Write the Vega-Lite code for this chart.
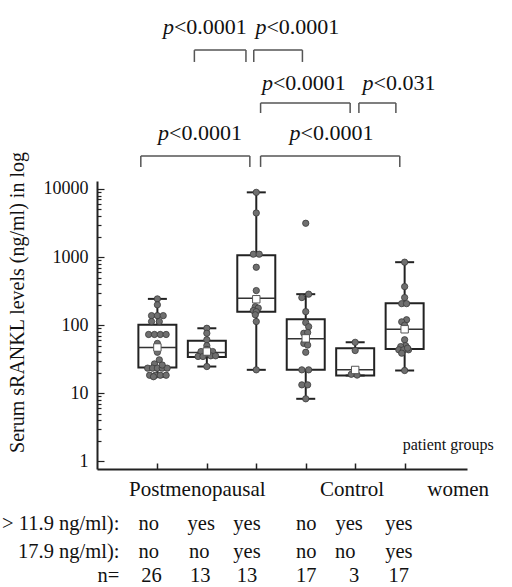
{
  "$schema": "https://vega.github.io/schema/vega-lite/v6.json",
  "width": 370,
  "height": 288,
  "autosize": {"type": "none"},
  "padding": {"left": 97, "top": 181, "right": 45, "bottom": 118},
  "background": "white",
  "config": {
    "view": {"stroke": null},
    "axis": {"grid": false}
  },
  "datasets": {
    "boxes": [
      {"x": 1, "lo": 17.5, "q1": 23.9, "med": 47, "q3": 101, "hi": 243, "mean": 47},
      {"x": 2, "lo": 24.7, "q1": 34, "med": 39.6, "q3": 58.9, "hi": 90, "mean": 41},
      {"x": 3, "lo": 22.1, "q1": 158, "med": 249, "q3": 1066, "hi": 8900, "mean": 240},
      {"x": 4, "lo": 8.3, "q1": 22.1, "med": 63, "q3": 122, "hi": 285, "mean": 64},
      {"x": 5, "lo": 18.2, "q1": 18.2, "med": 22.1, "q3": 46, "hi": 56, "mean": 22},
      {"x": 6, "lo": 21.6, "q1": 44.5, "med": 87, "q3": 210, "hi": 840, "mean": 87}
    ],
    "points": [
      {"x": 1.0, "v": 243}, {"x": 1.0, "v": 199}, {"x": 0.882, "v": 138}, {"x": 1.0, "v": 138},
      {"x": 1.118, "v": 138}, {"x": 0.882, "v": 113}, {"x": 1.039, "v": 113}, {"x": 0.823, "v": 73},
      {"x": 0.941, "v": 73}, {"x": 1.059, "v": 73}, {"x": 1.177, "v": 73}, {"x": 1.0, "v": 54},
      {"x": 1.0, "v": 40}, {"x": 1.039, "v": 31}, {"x": 0.941, "v": 27}, {"x": 0.803, "v": 23.4},
      {"x": 0.902, "v": 23.4}, {"x": 1.0, "v": 23.4}, {"x": 1.098, "v": 23.4}, {"x": 1.197, "v": 23.4},
      {"x": 0.843, "v": 18.4}, {"x": 0.961, "v": 18.4}, {"x": 1.059, "v": 18.4}, {"x": 1.177, "v": 18.4},
      {"x": 1.098, "v": 26}, {"x": 0.921, "v": 17.5},
      {"x": 2.0, "v": 90}, {"x": 2.0, "v": 76}, {"x": 2.0, "v": 61}, {"x": 2.0, "v": 50},
      {"x": 1.882, "v": 41}, {"x": 2.118, "v": 41}, {"x": 2.0, "v": 38}, {"x": 1.823, "v": 34.7},
      {"x": 1.921, "v": 34.7}, {"x": 2.079, "v": 35.5}, {"x": 2.177, "v": 35.5}, {"x": 2.0, "v": 24.7},
      {"x": 2.0, "v": 44},
      {"x": 3.0, "v": 8900}, {"x": 3.0, "v": 4430}, {"x": 2.941, "v": 1100}, {"x": 3.059, "v": 1100},
      {"x": 3.0, "v": 708}, {"x": 3.0, "v": 322}, {"x": 2.98, "v": 187}, {"x": 3.039, "v": 178},
      {"x": 2.941, "v": 164}, {"x": 3.0, "v": 158}, {"x": 2.98, "v": 142}, {"x": 3.0, "v": 113},
      {"x": 3.0, "v": 22.1},
      {"x": 4.0, "v": 3130}, {"x": 4.059, "v": 285}, {"x": 3.921, "v": 254}, {"x": 4.0, "v": 158},
      {"x": 4.0, "v": 109}, {"x": 4.059, "v": 95}, {"x": 3.961, "v": 76}, {"x": 4.039, "v": 78},
      {"x": 4.0, "v": 65}, {"x": 3.961, "v": 54}, {"x": 4.039, "v": 51}, {"x": 4.0, "v": 40},
      {"x": 3.921, "v": 22.1}, {"x": 4.059, "v": 22.1}, {"x": 3.921, "v": 13.3}, {"x": 4.039, "v": 13.3},
      {"x": 4.0, "v": 8.3},
      {"x": 5.0, "v": 56}, {"x": 5.0, "v": 42.4}, {"x": 4.921, "v": 19}, {"x": 5.039, "v": 18.5},
      {"x": 6.0, "v": 840}, {"x": 6.0, "v": 368}, {"x": 6.0, "v": 254}, {"x": 5.941, "v": 207},
      {"x": 6.039, "v": 207}, {"x": 6.039, "v": 120}, {"x": 5.941, "v": 112}, {"x": 6.0, "v": 61},
      {"x": 6.02, "v": 50}, {"x": 5.921, "v": 48.5}, {"x": 5.882, "v": 43.5}, {"x": 5.98, "v": 43.5},
      {"x": 6.079, "v": 43.5}, {"x": 5.941, "v": 38.8}, {"x": 6.0, "v": 21.6}, {"x": 6.0, "v": 100},
      {"x": 6.059, "v": 46}
    ],
    "brackets": [
      {"x1": 1.748, "x2": 2.791, "top": 1090000, "bot": 730000},
      {"x1": 2.949, "x2": 3.933, "top": 1090000, "bot": 730000},
      {"x1": 3.087, "x2": 4.898, "top": 182000, "bot": 130000},
      {"x1": 5.075, "x2": 5.823, "top": 182000, "bot": 130000},
      {"x1": 0.665, "x2": 2.87, "top": 30400, "bot": 21000},
      {"x1": 3.087, "x2": 5.902, "top": 30400, "bot": 21000}
    ],
    "pvals": [
      {"x": 1.335, "y": 2400000, "p": "p", "rest": "<0.0001"},
      {"x": 3.205, "y": 2400000, "p": "p", "rest": "<0.0001"},
      {"x": 3.337, "y": 358000, "p": "p", "rest": "<0.0001"},
      {"x": 5.37, "y": 358000, "p": "p", "rest": "<0.031"},
      {"x": 1.236, "y": 66200, "p": "p", "rest": "<0.0001"},
      {"x": 3.894, "y": 66200, "p": "p", "rest": "<0.0001"}
    ],
    "grouplabels": [
      {"x": 1.807, "y": 0.381, "t": "Postmenopausal"},
      {"x": 4.937, "y": 0.381, "t": "Control"},
      {"x": 7.083, "y": 0.381, "t": "women"}
    ],
    "cells": [
      {"x": 0.823, "y": 0.121, "t": "no"}, {"x": 1.886, "y": 0.121, "t": "yes"}, {"x": 2.811, "y": 0.121, "t": "yes"},
      {"x": 4.012, "y": 0.121, "t": "no"}, {"x": 4.878, "y": 0.121, "t": "yes"}, {"x": 5.882, "y": 0.121, "t": "yes"},
      {"x": 0.823, "y": 0.0469, "t": "no"}, {"x": 1.846, "y": 0.0469, "t": "no"}, {"x": 2.811, "y": 0.0469, "t": "yes"},
      {"x": 4.012, "y": 0.0469, "t": "no"}, {"x": 4.799, "y": 0.0469, "t": "no"}, {"x": 5.882, "y": 0.0469, "t": "yes"},
      {"x": 0.882, "y": 0.0205, "t": "26"}, {"x": 1.866, "y": 0.0205, "t": "13"}, {"x": 2.811, "y": 0.0205, "t": "13"},
      {"x": 4.012, "y": 0.0205, "t": "17"}, {"x": 4.976, "y": 0.0205, "t": "3"}, {"x": 5.882, "y": 0.0205, "t": "17"}
    ],
    "rowlabels": [
      {"x": 0.232, "y": 0.121, "t": "> 11.9 ng/ml):"},
      {"x": 0.232, "y": 0.0469, "t": "17.9 ng/ml):"},
      {"x": 0.232, "y": 0.0205, "t": "n="}
    ],
    "note": [
      {"x": 5.96, "y": 1.74, "t": "patient groups"}
    ]
  },
  "layer": [
    {
      "data": {"name": "boxes"},
      "mark": {"type": "rule", "color": "#222", "strokeWidth": 2},
      "encoding": {
        "x": {
          "field": "x", "type": "quantitative", "title": null,
          "scale": {"domain": [-0.12, 7.16], "nice": false, "zero": false},
          "axis": {
            "values": [1, 2, 3, 4, 5, 6], "labels": false, "title": null,
            "tickSize": -6, "tickWidth": 1.5, "tickColor": "#222",
            "domainColor": "#222", "domainWidth": 2
          }
        },
        "y": {
          "field": "lo", "type": "quantitative",
          "title": "Serum sRANKL levels (ng/ml) in log",
          "scale": {"type": "log", "domain": [0.774, 13060], "nice": false},
          "axis": {
            "values": [1, 2, 3, 4, 5, 6, 7, 8, 9, 10, 20, 30, 40, 50, 60, 70, 80, 90, 100, 200, 300, 400, 500, 600, 700, 800, 900, 1000, 2000, 3000, 4000, 5000, 6000, 7000, 8000, 9000, 10000],
            "format": "d",
            "labelExpr": "(datum.value == 1 || datum.value == 10 || datum.value == 100 || datum.value == 1000 || datum.value == 10000) ? datum.label : ''",
            "tickSize": {"condition": {"test": "datum.value == 1 || datum.value == 10 || datum.value == 100 || datum.value == 1000 || datum.value == 10000", "value": -7}, "value": -4},
            "tickWidth": 1.2, "tickColor": "#222",
            "domainColor": "#222", "domainWidth": 2,
            "labelFont": "Liberation Serif", "labelFontSize": 18, "labelColor": "#111",
            "labelPadding": 16, "labelOverlap": false, "labelFlush": false, "labelBaseline": "middle",
            "title": "Serum sRANKL levels (ng/ml) in log",
            "titleFont": "Liberation Serif", "titleFontSize": 20, "titleFontWeight": "normal", "titleColor": "#111",
            "titleX": -80, "titleY": 121, "titleAngle": -90, "titleAlign": "center", "titleBaseline": "middle"
          }
        },
        "y2": {"field": "hi"}
      }
    },
    {
      "data": {"name": "boxes"},
      "mark": {"type": "bar", "width": 38, "fill": "white", "stroke": "#222", "strokeWidth": 2},
      "encoding": {
        "x": {"field": "x", "type": "quantitative"},
        "y": {"field": "q1", "type": "quantitative"},
        "y2": {"field": "q3"}
      }
    },
    {
      "data": {"name": "boxes"},
      "mark": {"type": "tick", "orient": "horizontal", "size": 38, "thickness": 1.5, "color": "#333", "opacity": 1},
      "encoding": {
        "x": {"field": "x", "type": "quantitative"},
        "y": {"field": "med", "type": "quantitative"}
      }
    },
    {
      "data": {"name": "boxes"},
      "mark": {"type": "tick", "orient": "horizontal", "size": 19, "thickness": 2, "color": "#222", "opacity": 1},
      "encoding": {
        "x": {"field": "x", "type": "quantitative"},
        "y": {"field": "hi", "type": "quantitative"}
      }
    },
    {
      "data": {"name": "boxes"},
      "mark": {"type": "tick", "orient": "horizontal", "size": 19, "thickness": 2, "color": "#222", "opacity": 1},
      "encoding": {
        "x": {"field": "x", "type": "quantitative"},
        "y": {"field": "lo", "type": "quantitative"}
      }
    },
    {
      "data": {"name": "points"},
      "mark": {"type": "point", "shape": "circle", "filled": true, "size": 40, "fill": "#6f6f6f", "stroke": "#3a3a3a", "strokeWidth": 0.8, "opacity": 1},
      "encoding": {
        "x": {"field": "x", "type": "quantitative"},
        "y": {"field": "v", "type": "quantitative"}
      }
    },
    {
      "data": {"name": "boxes"},
      "mark": {"type": "point", "shape": "square", "filled": true, "size": 55, "fill": "white", "stroke": "#555", "strokeWidth": 1, "opacity": 1},
      "encoding": {
        "x": {"field": "x", "type": "quantitative"},
        "y": {"field": "mean", "type": "quantitative"}
      }
    },
    {
      "data": {"name": "brackets"},
      "mark": {"type": "rule", "color": "#555", "strokeWidth": 1.5},
      "encoding": {
        "x": {"field": "x1", "type": "quantitative"},
        "x2": {"field": "x2"},
        "y": {"field": "top", "type": "quantitative"}
      }
    },
    {
      "data": {"name": "brackets"},
      "mark": {"type": "rule", "color": "#555", "strokeWidth": 1.5},
      "encoding": {
        "x": {"field": "x1", "type": "quantitative"},
        "y": {"field": "bot", "type": "quantitative"},
        "y2": {"field": "top"}
      }
    },
    {
      "data": {"name": "brackets"},
      "mark": {"type": "rule", "color": "#555", "strokeWidth": 1.5},
      "encoding": {
        "x": {"field": "x2", "type": "quantitative"},
        "y": {"field": "bot", "type": "quantitative"},
        "y2": {"field": "top"}
      }
    },
    {
      "data": {"name": "pvals"},
      "mark": {"type": "text", "align": "right", "baseline": "middle", "font": "Liberation Serif", "fontSize": 22, "fontStyle": "italic", "color": "#111"},
      "encoding": {
        "x": {"field": "x", "type": "quantitative"},
        "y": {"field": "y", "type": "quantitative"},
        "text": {"field": "p"}
      }
    },
    {
      "data": {"name": "pvals"},
      "mark": {"type": "text", "align": "left", "baseline": "middle", "font": "Liberation Serif", "fontSize": 22, "color": "#111"},
      "encoding": {
        "x": {"field": "x", "type": "quantitative"},
        "y": {"field": "y", "type": "quantitative"},
        "text": {"field": "rest"}
      }
    },
    {
      "data": {"name": "grouplabels"},
      "mark": {"type": "text", "align": "center", "baseline": "middle", "font": "Liberation Serif", "fontSize": 21, "color": "#111"},
      "encoding": {
        "x": {"field": "x", "type": "quantitative"},
        "y": {"field": "y", "type": "quantitative"},
        "text": {"field": "t"}
      }
    },
    {
      "data": {"name": "cells"},
      "mark": {"type": "text", "align": "center", "baseline": "middle", "font": "Liberation Serif", "fontSize": 20.5, "color": "#111"},
      "encoding": {
        "x": {"field": "x", "type": "quantitative"},
        "y": {"field": "y", "type": "quantitative"},
        "text": {"field": "t"}
      }
    },
    {
      "data": {"name": "rowlabels"},
      "mark": {"type": "text", "align": "right", "baseline": "middle", "font": "Liberation Serif", "fontSize": 20.5, "color": "#111"},
      "encoding": {
        "x": {"field": "x", "type": "quantitative"},
        "y": {"field": "y", "type": "quantitative"},
        "text": {"field": "t"}
      }
    },
    {
      "data": {"name": "note"},
      "mark": {"type": "text", "align": "left", "baseline": "middle", "font": "Liberation Serif", "fontSize": 16, "color": "#111"},
      "encoding": {
        "x": {"field": "x", "type": "quantitative"},
        "y": {"field": "y", "type": "quantitative"},
        "text": {"field": "t"}
      }
    }
  ]
}
